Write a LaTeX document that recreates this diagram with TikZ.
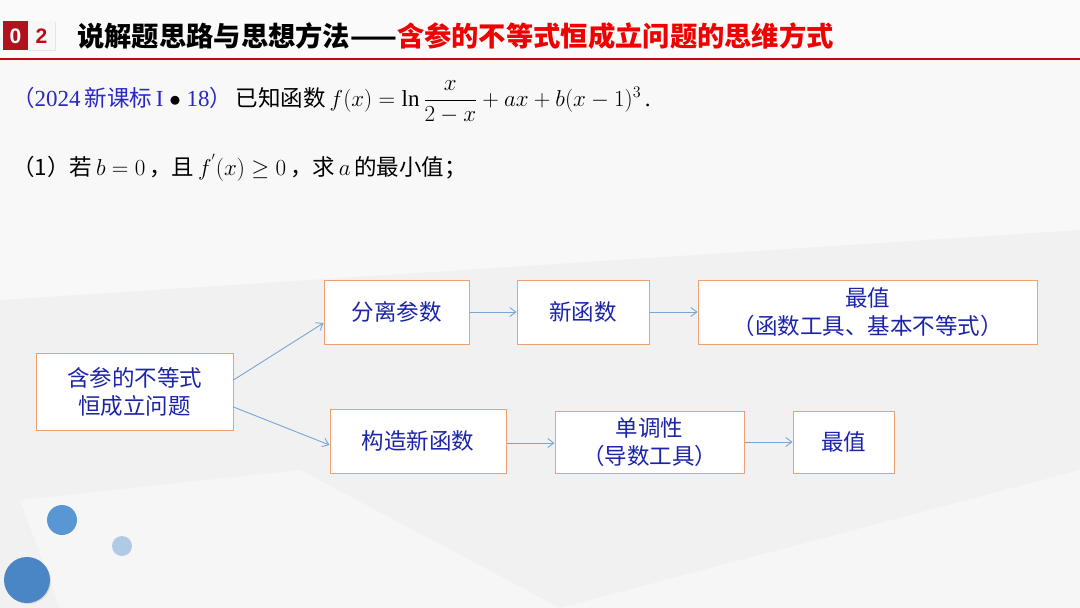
\documentclass[tikz,border=0pt]{standalone}
\usepackage{fix-cm}
\usepackage{amsmath}
\usepackage{fontspec}
\setmainfont{Liberation Serif}
\newfontfamily\cjk{Noto Sans CJK SC}
\newfontfamily\hsans{Liberation Sans}
\usetikzlibrary{arrows.meta}
\definecolor{bgc}{RGB}{241,241,241}
\definecolor{hred}{RGB}{176,18,30}
\definecolor{tred}{RGB}{240,0,0}
\definecolor{lred}{RGB}{192,10,20}
\definecolor{qblue}{RGB}{40,40,200}
\definecolor{txtblue}{RGB}{28,36,168}
\definecolor{boxor}{RGB}{240,160,110}
\definecolor{arrc}{RGB}{120,165,215}
\definecolor{c1}{RGB}{88,150,212}
\definecolor{c2}{RGB}{176,202,230}
\definecolor{c3}{RGB}{74,134,198}
\newcommand{\cj}[1]{{\cjk\fontsize{22.5}{26}\selectfont #1}}
\tikzset{
  box/.style={draw=boxor, fill=white, line width=1pt, text=txtblue,
    font=\cjk\fontsize{22.5}{28}\selectfont, align=center, inner sep=0pt},
  arr/.style={draw=arrc, line width=0.9pt, -{Straight Barb[length=6pt,width=9pt]}},
  qtext/.style={font=\fontsize{23}{28}\selectfont, inner sep=0pt, anchor=base west}
}
\begin{document}
\begin{tikzpicture}[x=1pt,y=-1pt]
\useasboundingbox (0,0) rectangle (1080,608);
% background
\fill[bgc] (0,0) rectangle (1080,608);
\fill[white,opacity=0.7] (0,0) -- (1080,0) -- (1080,60) -- (0,60) -- cycle;
\fill[white,opacity=0.5] (0,60) -- (1080,60) -- (1080,230) -- (0,300) -- cycle;
\fill[white,opacity=0.4] (560,608) -- (1080,470) -- (1080,608) -- cycle;
\fill[white,opacity=0.4] (20,500) -- (300,470) -- (560,608) -- (60,608) -- cycle;
% header
\fill[hred] (3,21) rectangle (28,50);
\fill[black!10] (29,22) rectangle (56,51);
\fill[white!97!black] (28,21) rectangle (55,50);
\node[font=\hsans\bfseries\fontsize{21}{24}\selectfont, text=white] (n0) at (15.5,36) {0};
\node[font=\hsans\bfseries\fontsize{21}{24}\selectfont, text=lred] (n2) at (41.5,36) {2};
\node[anchor=west, inner sep=0pt, font=\cjk\bfseries\fontsize{27.3}{30}\selectfont] (title) at (77,36)
  {说解题思路与思想方法——\textcolor{tred}{含参的不等式恒成立问题的思维方式}};
\fill[lred] (0,57.5) rectangle (1080,60);
% problem text
\node[qtext] (q1) at (12,106)
  {\textcolor{qblue}{\cj{（}2024\,\cj{新课标}\,I} $\bullet$ \textcolor{qblue}{18\cj{）}}\,\cj{已知函数}\,$f(x)=\ln\dfrac{x}{2-x}+ax+b(x-1)^3$\,.};
\node[qtext] (q2) at (12,175)
  {\cj{（1）若}\,$b=0$\,\cj{，且}\,$f^{'}(x)\geq 0$\,\cj{，求}\,$a$\,\cj{的最小值；}};
% boxes
\node[box, minimum width=197pt, minimum height=77pt] (A) at (134.5,391.5) {含参的不等式\\恒成立问题};
\node[box, minimum width=145pt, minimum height=64pt] (B) at (396.5,312) {分离参数};
\node[box, minimum width=132pt, minimum height=64pt] (C) at (583,312) {新函数};
\node[box, minimum width=339pt, minimum height=64pt] (D) at (867.5,312) {最值\\（函数工具、基本不等式）};
\node[box, minimum width=176pt, minimum height=64pt] (E) at (418,441) {构造新函数};
\node[box, minimum width=189pt, minimum height=62pt] (F) at (649.5,442) {单调性\\（导数工具）};
\node[box, minimum width=101pt, minimum height=62pt] (G) at (843.5,442) {最值};
% arrows
\draw[arr] ([yshift=11.5pt]A.east) -- ([yshift=-11pt]B.west);
\draw[arr] ([yshift=-15.5pt]A.east) -- ([yshift=-4pt]E.west);
\draw[arr] (B) -- (C);
\draw[arr] (C) -- (D);
\draw[arr] ([yshift=-2pt]E.east) -- ([yshift=-2pt]E.east -| F.west);
\draw[arr] (F) -- (G);
% circles
\fill[c1] (62,520) circle (15);
\fill[c2] (122,546) circle (10);
\fill[black!15] (28,581) circle (23);
\fill[c3] (27,580) circle (23);
\end{tikzpicture}
\end{document}
